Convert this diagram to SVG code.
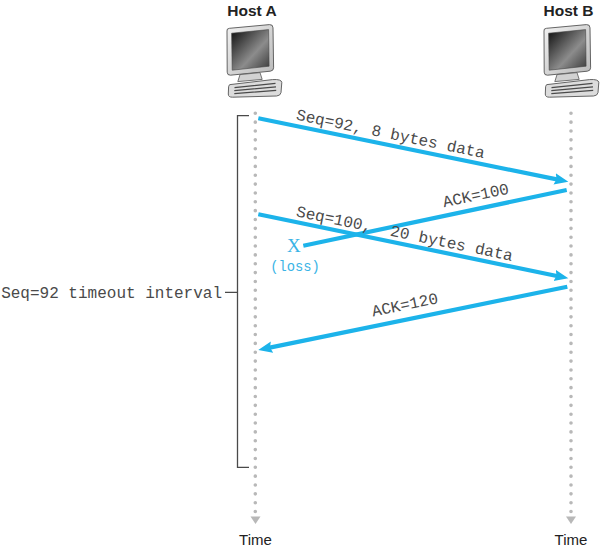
<svg xmlns="http://www.w3.org/2000/svg" width="611" height="550" viewBox="0 0 611 550">
  <style>
    .host { font-family: "Liberation Sans", Arial, sans-serif; font-weight: bold; font-size: 15.5px; fill: #222; text-anchor: middle; }
    .time { font-family: "Liberation Sans", Arial, sans-serif; font-size: 15px; fill: #222; text-anchor: middle; }
    .mono { font-family: "Liberation Mono", "Courier New", monospace; font-size: 16px; fill: #4a4a4a; }
    .loss { fill: #3ab4e6; text-anchor: middle; }
    .timeline { stroke: #b8b8b8; stroke-width: 3.6; stroke-linecap: round; stroke-dasharray: 0 8.85; fill: none; }
    .tlhead { fill: #b8b8b8; }
    .msg { stroke: #1cb3ea; stroke-width: 4.2; fill: none; }
    .bracket { stroke: #4a4a4a; stroke-width: 1.3; fill: none; }
  </style>
  <defs>
    <marker id="arrow" markerUnits="userSpaceOnUse" markerWidth="15" markerHeight="12" refX="6" refY="5.75" orient="auto">
      <path d="M0,0 L14,5.75 L0,11.5 L2,5.75 Z" fill="#1cb3ea"/>
    </marker>
    <linearGradient id="bezel" x1="0" y1="0" x2="1" y2="1">
      <stop offset="0" stop-color="#f2f2f2"/>
      <stop offset="1" stop-color="#b9b9b9"/>
    </linearGradient>
    <linearGradient id="screen" x1="0" y1="0" x2="1" y2="1">
      <stop offset="0" stop-color="#0e0e0e"/>
      <stop offset="0.6" stop-color="#8c8c8c"/>
      <stop offset="1" stop-color="#3a3a3a"/>
    </linearGradient>
    <g id="pc">
      <path d="M227,31 Q226.5,28.5 229.5,28.3 L269.5,24.6 Q273,24.4 273,27.8 L273.6,67.8 Q273.6,70.8 270.3,71.2 L230.5,75.2 Q227.2,75.4 227.2,72.2 Z" fill="url(#bezel)" stroke="#555" stroke-width="0.9"/>
      <path d="M231.6,33.2 L268.6,29.6 L269.1,66.2 L232.2,70.2 Z" fill="url(#screen)" stroke="#444" stroke-width="0.6"/>
      <path d="M240,74.6 L260,72.6 L262.2,79.4 L237.8,81.6 Z" fill="#d2d2d2" stroke="#555" stroke-width="0.8"/>
      <path d="M230,84.6 L272.5,79.6 Q281.6,79 281.8,82.5 L281,92.6 Q280.4,95.8 276.5,96 L232.5,97.2 Q228.2,97.3 228.3,94 L228.6,86.8 Q228.8,84.8 230,84.6 Z" fill="#dcdcdc" stroke="#555" stroke-width="0.9"/>
      <path d="M234.5,87.6 L275.5,83.4 M234.3,90.6 L276,86.8 M234.3,93.6 L276.2,90.4" stroke="#4a4a4a" stroke-width="1.3" fill="none"/>
    </g>
  </defs>

  <g id="hostA">
    <text class="host" x="252" y="15.5">Host A</text>
    <use href="#pc"/>
    <path class="timeline" d="M255.3,113.3 V512"/>
    <path class="tlhead" d="M250.5,516.5 H260.5 L255.5,524 Z"/>
    <text class="time" x="255.5" y="545">Time</text>
  </g>

  <g id="hostB">
    <text class="host" x="568.5" y="15.5">Host B</text>
    <use href="#pc" transform="translate(317,0)"/>
    <path class="timeline" d="M571,113.3 V512"/>
    <path class="tlhead" d="M566,516.5 H576 L571,524 Z"/>
    <text class="time" x="571" y="545">Time</text>
  </g>

  <g id="timeout">
    <path class="bracket" d="M249,115.7 H237.5 V467.3 H249 M237.5,292.3 H225"/>
    <text class="mono" x="222" y="297.7" text-anchor="end" font-size="15.8">Seq=92 timeout interval</text>
  </g>

  <g id="loss">
    <text class="loss" x="293.8" y="251.8" font-family="Liberation Serif, Times New Roman, serif" font-size="19">X</text>
    <text class="loss" x="295" y="270.5" font-family="Liberation Mono, Courier New, monospace" font-size="13.8">(loss)</text>
  </g>

  <g id="connectors">
    <path class="msg" d="M258.3,118.3 L560.5,180.1" marker-end="url(#arrow)"/>
    <path class="msg" d="M566.7,190 L303.3,245.7"/>
    <path class="msg" d="M258.3,214.3 L560.5,276.7" marker-end="url(#arrow)"/>
    <path class="msg" d="M567.3,286.7 L266.1,348.4" marker-end="url(#arrow)"/>
    <text class="mono" transform="translate(295.5,119.6) rotate(11.56)">Seq=92, 8 bytes data</text>
    <text class="mono" transform="translate(444,207.3) rotate(-11.94)">ACK=100</text>
    <text class="mono" transform="translate(295.5,216.2) rotate(11.67)">Seq=100,<tspan dx="19.2">20 bytes data</tspan></text>
    <text class="mono" transform="translate(373,316.5) rotate(-11.58)">ACK=120</text>
  </g>
</svg>
